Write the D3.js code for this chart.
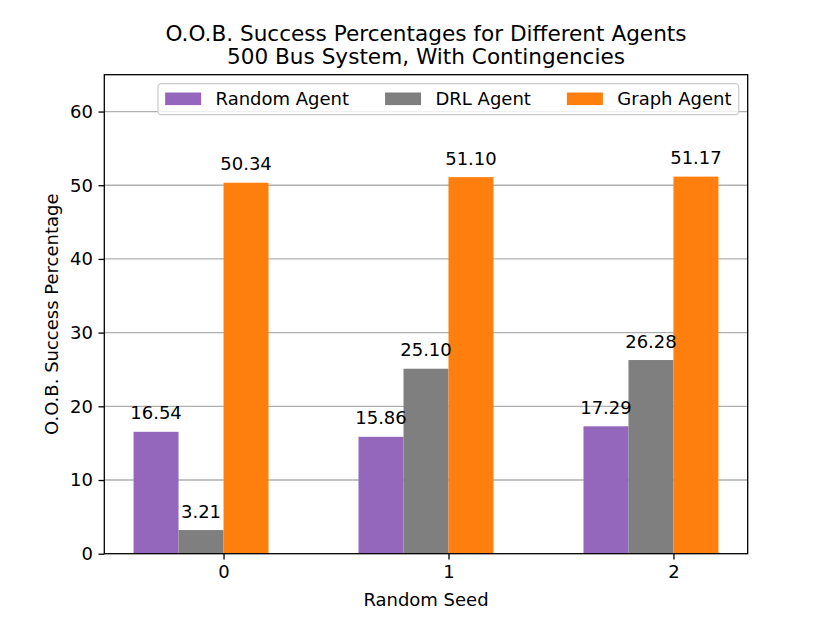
<!DOCTYPE html>
<html>
<head>
<meta charset="utf-8">
<script src="https://cdn.jsdelivr.net/npm/d3@7"></script>
<style>
  html, body { margin: 0; padding: 0; background: #fff; }
  svg { display: block; font-family: "DejaVu Sans", sans-serif; }
</style>
</head>
<body>
<svg id="chart" width="830" height="623"></svg>
<script>
// ---- data ----
const seeds = ["0", "1", "2"];
const seriesNames = ["Random Agent", "DRL Agent", "Graph Agent"];
const randomAgent = [16.54, 15.86, 17.29];
const drlAgent = [3.21, 25.10, 26.28];
const graphAgent = [50.34, 51.10, 51.17];
const yTicks = [0, 10, 20, 30, 40, 50, 60];
const titleLines = ["O.O.B. Success Percentages for Different Agents", "500 Bus System, With Contingencies"];
const xLabel = "Random Seed";
const yLabel = "O.O.B. Success Percentage";

const colors = ["#9467bd", "#7f7f7f", "#ff7f0e"];
const seriesValues = [randomAgent, drlAgent, graphAgent];
const offsets = [-0.4, -0.2, 0.0]; // bar left edge offset from tick (in x units)
const barW = 0.2;

// ---- layout ----
const W = 830, H = 623;
const L = 104.3, R = 747.7, T = 74.7, B = 553.7;
const fs = 18;

const svg = d3.select("#chart");
svg.append("rect").attr("width", W).attr("height", H).attr("fill", "#fff");

const x = d3.scaleLinear().domain([-0.53, 2.33]).range([L, R]);
const y = d3.scaleLinear().domain([0, 65]).range([B, T]);

// grid
svg.append("g").selectAll("line").data(yTicks.filter(d => d > 0)).join("line")
  .attr("x1", L).attr("x2", R)
  .attr("y1", d => y(d)).attr("y2", d => y(d))
  .attr("stroke", "#b0b0b0").attr("stroke-width", 1.3);

// bars
const barsData = [];
seriesValues.forEach((vals, s) => {
  vals.forEach((v, i) => barsData.push({s, i, v}));
});
svg.append("g").selectAll("rect").data(barsData).join("rect")
  .attr("x", d => x(d.i + offsets[d.s]))
  .attr("width", d => x(d.i + offsets[d.s] + barW) - x(d.i + offsets[d.s]))
  .attr("y", d => y(d.v))
  .attr("height", d => y(0) - y(d.v))
  .attr("fill", d => colors[d.s]);

// value labels
svg.append("g").selectAll("text").data(barsData).join("text")
  .attr("x", d => x(d.i + offsets[d.s] + barW / 2))
  .attr("y", d => y(d.v) - 12.5)
  .attr("text-anchor", "middle")
  .attr("font-size", fs)
  .attr("fill", "#000")
  .text(d => d.v.toFixed(2));

// axes
const yAxis = d3.axisLeft(y).tickValues(yTicks).tickSize(5.8).tickPadding(5.5).tickFormat(d3.format("d"));
const gy = svg.append("g").attr("transform", `translate(${L},0)`).call(yAxis);
const xAxis = d3.axisBottom(x).tickValues([0, 1, 2]).tickSize(5.8).tickPadding(5.5).tickFormat((d, i) => seeds[i]);
const gx = svg.append("g").attr("transform", `translate(0,${B})`).call(xAxis);
[gx, gy].forEach(g => {
  g.select(".domain").remove();
  g.selectAll(".tick line").attr("stroke", "#000").attr("stroke-width", 1.3);
  g.selectAll(".tick text").attr("font-size", fs).attr("fill", "#000").attr("font-family", "DejaVu Sans, sans-serif");
});

// frame
svg.append("rect").attr("x", L).attr("y", T).attr("width", R - L).attr("height", B - T)
  .attr("fill", "none").attr("stroke", "#000").attr("stroke-width", 1.3);

// titles
svg.append("g").selectAll("text").data(titleLines).join("text")
  .attr("x", (L + R) / 2).attr("y", (d, i) => 41 + i * 23)
  .attr("text-anchor", "middle").attr("font-size", 21.6).attr("fill", "#000")
  .text(d => d);

svg.append("text").attr("x", (L + R) / 2).attr("y", 606)
  .attr("text-anchor", "middle").attr("font-size", fs).attr("fill", "#000").text(xLabel);

svg.append("text").attr("transform", `translate(58,${(T + B) / 2}) rotate(-90)`)
  .attr("text-anchor", "middle").attr("font-size", fs).attr("fill", "#000").text(yLabel);

// legend (matplotlib-like layout, upper right)
const lg = svg.append("g");
const boxRect = lg.append("rect");
const borderPad = 0.4 * fs, handleLen = 2 * fs, handlePad = 0.8 * fs, colSpace = 2 * fs;
const items = lg.selectAll("g.item").data(seriesNames).join("g").attr("class", "item");
const texts = items.append("text").attr("font-size", fs).attr("fill", "#000").text(d => d);
const tw = [];
texts.each(function() { tw.push(this.getComputedTextLength()); });
const totalW = 2 * borderPad + d3.sum(tw) + seriesNames.length * (handleLen + handlePad) + (seriesNames.length - 1) * colSpace;
const boxR = R - 0.5 * fs, boxL = boxR - totalW, boxT = T + 0.5 * fs, boxH = 31;
boxRect.attr("x", boxL).attr("y", boxT).attr("width", totalW).attr("height", boxH)
  .attr("rx", 3.5).attr("fill", "#fff").attr("fill-opacity", 0.8)
  .attr("stroke", "#cccccc").attr("stroke-width", 1.3);
let cx = boxL + borderPad;
const patchXs = [];
tw.forEach(w => { patchXs.push(cx); cx += handleLen + handlePad + w + colSpace; });
items.insert("rect", "text").attr("x", (d, i) => patchXs[i]).attr("y", boxT + 8.8)
  .attr("width", handleLen).attr("height", 12.6)
  .attr("fill", (d, i) => colors[i]);
texts.attr("x", (d, i) => patchXs[i] + handleLen + handlePad).attr("y", boxT + 21.5);
</script>
</body>
</html>
